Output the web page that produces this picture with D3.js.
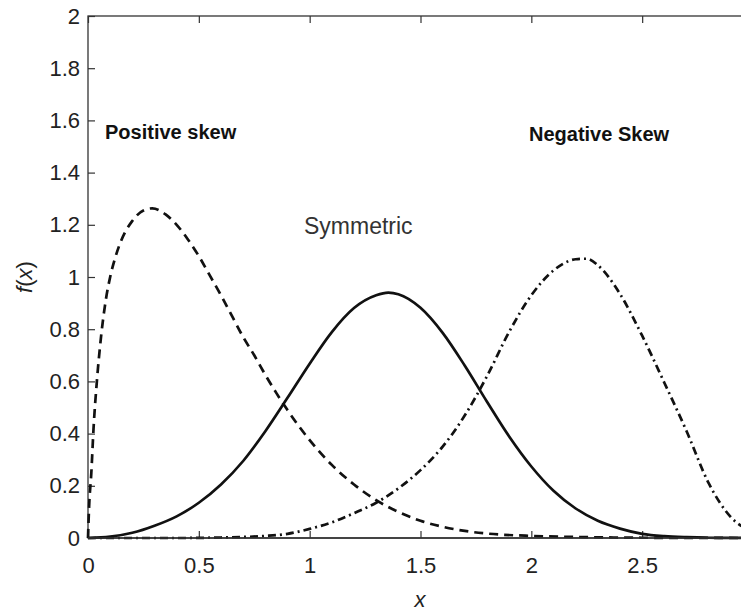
<!DOCTYPE html>
<html>
<head>
<meta charset="utf-8">
<script src="https://cdn.jsdelivr.net/npm/d3@7"></script>
<style>
    body { margin: 0; background: #fff; }
    svg { display: block; }
    text { font-family: "Liberation Sans", Arial, Helvetica, sans-serif; }
</style>
</head>
<body>
<div id="chart"></div>
<script>
// Values (x, f(x)) for each curve
var positiveX = [0, 0.005, 0.015, 0.025, 0.04, 0.06, 0.08, 0.1, 0.125, 0.15, 0.2, 0.25, 0.29, 0.35, 0.4, 0.45, 0.5, 0.55, 0.6, 0.65, 0.7, 0.75, 0.8, 0.85, 0.9, 0.95, 1.0, 1.1, 1.2, 1.3, 1.4, 1.5, 1.6, 1.7, 1.8, 2.0, 2.2, 2.5, 3.0];
var positiveY = [0, 0.12, 0.25, 0.42, 0.6, 0.78, 0.91, 1.0, 1.08, 1.14, 1.215, 1.255, 1.263, 1.24, 1.2, 1.145, 1.08, 1.005, 0.93, 0.85, 0.77, 0.7, 0.625, 0.555, 0.49, 0.43, 0.375, 0.28, 0.205, 0.145, 0.1, 0.066, 0.043, 0.027, 0.017, 0.008, 0.004, 0.001, 0];

var symmetricX = [0, 0.1, 0.2, 0.3, 0.4, 0.5, 0.6, 0.7, 0.8, 0.9, 1.0, 1.1, 1.2, 1.3, 1.355, 1.4, 1.5, 1.6, 1.7, 1.8, 1.9, 2.0, 2.1, 2.2, 2.3, 2.4, 2.5, 2.6, 2.7, 2.8, 3.0];
var symmetricY = [0, 0.005, 0.02, 0.047, 0.083, 0.135, 0.205, 0.295, 0.409, 0.537, 0.668, 0.789, 0.881, 0.93, 0.94, 0.934, 0.882, 0.786, 0.66, 0.522, 0.389, 0.274, 0.181, 0.113, 0.066, 0.036, 0.016, 0.007, 0.003, 0.001, 0];

var negativeX = [0, 0.4, 0.6, 0.8, 0.9, 1.0, 1.1, 1.2, 1.3, 1.4, 1.5, 1.6, 1.7, 1.8, 1.9, 2.0, 2.1, 2.2, 2.25, 2.3, 2.4, 2.5, 2.6, 2.7, 2.8, 2.9, 3.0];
var negativeY = [0, 0, 0.002, 0.008, 0.016, 0.035, 0.06, 0.095, 0.135, 0.19, 0.26, 0.35, 0.47, 0.62, 0.79, 0.93, 1.025, 1.068, 1.07, 1.045, 0.935, 0.775, 0.595, 0.41, 0.21, 0.08, 0.025];

// Tick values
var xTicks = [0, 0.5, 1, 1.5, 2, 2.5];
var yTicks = [0, 0.2, 0.4, 0.6, 0.8, 1, 1.2, 1.4, 1.6, 1.8, 2];

// Curve labels
var labelText = ['Positive skew', 'Symmetric', 'Negative Skew'];

// Chart dimensions
var width = 741,
    height = 611,
    margin = {top: 16, left: 88},
    plotWidth = 665,
    plotHeight = 522;

var svg = d3.select('#chart')
    .append('svg')
    .attr('width', width)
    .attr('height', height);

// Scales
var x = d3.scaleLinear().domain([0, 3]).range([margin.left, margin.left + plotWidth]);
var y = d3.scaleLinear().domain([0, 2]).range([margin.top + plotHeight, margin.top]);

// Line generator
var line = d3.line()
    .x(function(d) { return x(d[0]); })
    .y(function(d) { return y(d[1]); })
    .curve(d3.curveMonotoneX);

function pairs(xs, ys) {
    return xs.map(function(v, i) { return [v, ys[i]]; });
}

var series = [
    {data: pairs(positiveX, positiveY), dash: '9,6'},
    {data: pairs(symmetricX, symmetricY), dash: null},
    {data: pairs(negativeX, negativeY), dash: '8,4,2,4'}
];

// Box around plot
svg.append('rect')
    .attr('x', x(0))
    .attr('y', y(2))
    .attr('width', plotWidth)
    .attr('height', plotHeight)
    .attr('fill', 'none')
    .attr('stroke', '#333')
    .attr('stroke-width', 1.3);

// Bottom axis (ticks point inward)
var xAxis = svg.append('g')
    .attr('transform', 'translate(0,' + y(0) + ')')
    .call(d3.axisBottom(x).tickValues(xTicks).tickSizeInner(-7).tickSizeOuter(0).tickPadding(19)
        .tickFormat(d3.format('')));

// Top axis ticks
var xTop = svg.append('g')
    .attr('transform', 'translate(0,' + y(2) + ')')
    .call(d3.axisTop(x).tickValues(xTicks).tickSizeInner(-7).tickSizeOuter(0).tickFormat(''));

// Left axis
var yAxis = svg.append('g')
    .attr('transform', 'translate(' + x(0) + ',0)')
    .call(d3.axisLeft(y).tickValues(yTicks).tickSizeInner(-7).tickSizeOuter(0).tickPadding(8)
        .tickFormat(d3.format('')));

[xAxis, xTop, yAxis].forEach(function(g) {
    g.select('.domain').remove();
    g.selectAll('.tick line').attr('stroke', '#333').attr('stroke-width', 1.2);
    g.selectAll('.tick text')
        .attr('fill', '#222')
        .style('font-size', '22px')
        .style('font-family', '"Liberation Sans", Arial, sans-serif');
});

// Curves
svg.append('g')
    .selectAll('path')
    .data(series)
    .enter()
    .append('path')
    .attr('d', function(d) { return line(d.data); })
    .attr('fill', 'none')
    .attr('stroke', '#111')
    .attr('stroke-width', 2.7)
    .attr('stroke-dasharray', function(d) { return d.dash; });

// Redraw axis line at the bottom over the curves
svg.append('line')
    .attr('x1', x(0)).attr('x2', x(3))
    .attr('y1', y(0)).attr('y2', y(0))
    .attr('stroke', '#333')
    .attr('stroke-width', 1.3);

// Curve labels
svg.append('text')
    .attr('x', 105).attr('y', 139)
    .attr('font-weight', 'bold')
    .style('font-size', '20px')
    .attr('fill', '#111')
    .text(labelText[0]);

svg.append('text')
    .attr('x', 304).attr('y', 234)
    .style('font-size', '23px')
    .attr('fill', '#333')
    .text(labelText[1]);

svg.append('text')
    .attr('x', 529).attr('y', 141)
    .attr('font-weight', 'bold')
    .style('font-size', '20px')
    .attr('fill', '#111')
    .text(labelText[2]);

// Axis titles
svg.append('text')
    .attr('x', 420).attr('y', 607)
    .attr('text-anchor', 'middle')
    .style('font-size', '22px')
    .style('font-style', 'italic')
    .attr('fill', '#222')
    .text('x');

svg.append('text')
    .attr('transform', 'translate(32,' + y(1) + ') rotate(-90)')
    .attr('text-anchor', 'middle')
    .style('font-size', '22px')
    .attr('fill', '#222')
    .html('<tspan font-style="italic">f</tspan>(<tspan font-style="italic">x</tspan>)');
</script>
</body>
</html>
